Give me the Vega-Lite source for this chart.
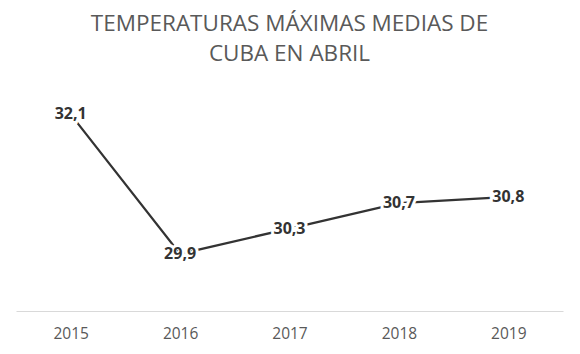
{
  "$schema": "https://vega.github.io/schema/vega-lite/v6.json",
  "autosize": "none",
  "width": 547,
  "height": 222,
  "padding": {"left": 16, "top": 89, "right": 17, "bottom": 43},
  "background": "white",
  "config": {"view": {"stroke": null}, "font": "Open Sans"},
  "title": {
    "text": ["TEMPERATURAS MÁXIMAS MEDIAS DE", "CUBA EN ABRIL"],
    "fontSize": 22.5,
    "font": "Open Sans",
    "fontWeight": "normal",
    "color": "#595959",
    "lineHeight": 30,
    "anchor": "middle",
    "offset": 24
  },
  "data": {
    "values": [
      {"year": "2015", "temp": 32.1, "label": "32,1"},
      {"year": "2016", "temp": 29.9, "label": "29,9"},
      {"year": "2017", "temp": 30.3, "label": "30,3"},
      {"year": "2018", "temp": 30.7, "label": "30,7"},
      {"year": "2019", "temp": 30.8, "label": "30,8"}
    ]
  },
  "encoding": {
    "x": {
      "field": "year",
      "type": "ordinal",
      "scale": {"type": "point", "padding": 0.5},
      "axis": {
        "title": null,
        "labelAngle": 0,
        "ticks": false,
        "domainColor": "#d9d9d9",
        "domainWidth": 1,
        "labelFontSize": 15.5,
        "labelColor": "#595959",
        "labelPadding": 15,
        "grid": false
      }
    },
    "y": {
      "field": "temp",
      "type": "quantitative",
      "scale": {"domain": [29, 32.5], "zero": false, "nice": false},
      "axis": null
    }
  },
  "layer": [
    {"mark": {"type": "line", "color": "#333333", "strokeWidth": 2.25}},
    {
      "mark": {"type": "text", "fontSize": 16, "fontWeight": "bold", "stroke": "white", "strokeWidth": 6, "fill": "white", "baseline": "middle", "align": "center"},
      "encoding": {"text": {"field": "label"}}
    },
    {
      "mark": {"type": "text", "fontSize": 16, "fontWeight": "bold", "color": "#333333", "baseline": "middle", "align": "center"},
      "encoding": {"text": {"field": "label"}}
    }
  ]
}
